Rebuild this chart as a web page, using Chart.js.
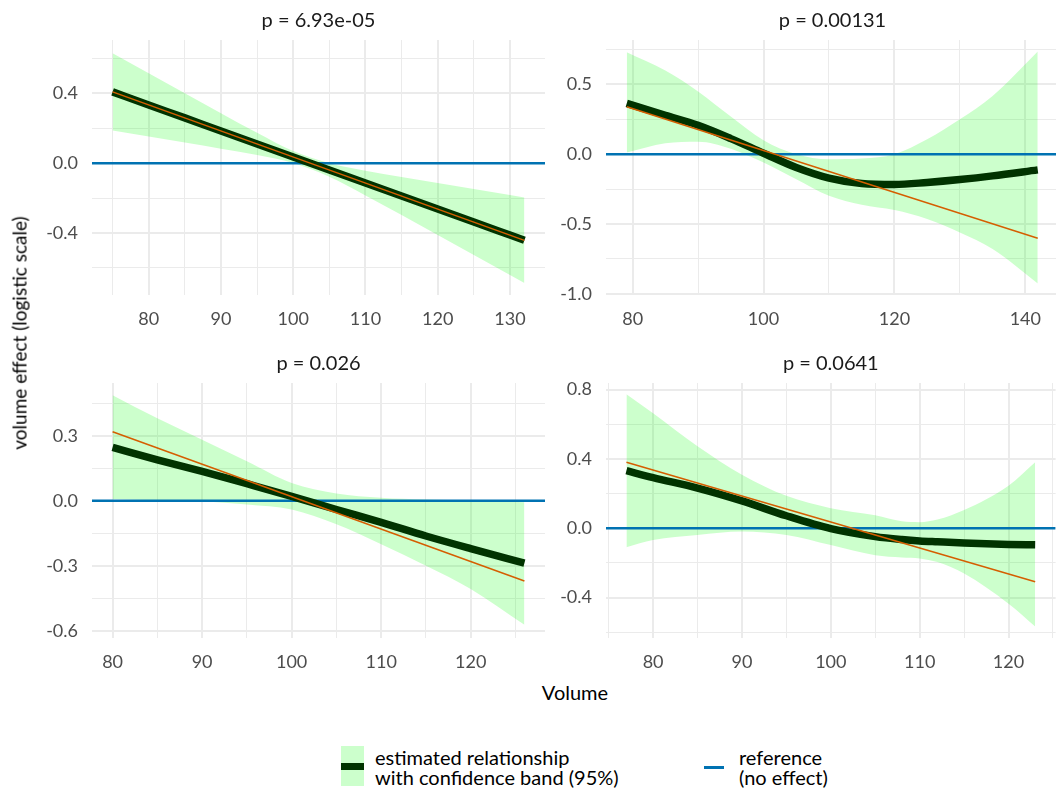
<!DOCTYPE html>
<html>
<head>
<meta charset="utf-8">
<script src="https://cdn.jsdelivr.net/npm/chart.js@4.4.1/dist/chart.umd.min.js"></script>
<style>
  html, body { margin: 0; padding: 0; background: #fff; overflow: hidden; }
  body { width: 1056px; height: 794px; position: relative; font-family: Lato, sans-serif; }
  canvas { position: absolute; }
  .ytitle { position: absolute; left: 19px; top: 333px; transform: translate(-50%, -50%) rotate(-90deg);
            white-space: nowrap; font-size: 19px; color: #000; }
  .xtitle { position: absolute; left: 575px; top: 692px; transform: translate(-50%, -50%);
            font-size: 20px; color: #000; }
  .lg-text { position: absolute; font-size: 20px; line-height: 20px; color: #000; white-space: nowrap; }
</style>
</head>
<body>
<canvas id="p1" width="530" height="330" style="left:22px; top:0px;"></canvas>
<canvas id="p2" width="530" height="330" style="left:536px; top:0px;"></canvas>
<canvas id="p3" width="530" height="330" style="left:22px; top:343px;"></canvas>
<canvas id="p4" width="530" height="330" style="left:536px; top:343px;"></canvas>

<div class="ytitle">volume effect (logistic scale)</div>
<div class="xtitle">Volume</div>

<!-- legend -->
<div style="position:absolute; left:341px; top:746px; width:23px; height:40px; background:rgba(0,255,0,0.2);">
  <div style="position:absolute; left:0; top:17px; width:23px; height:7px; background:#013300;"></div>
</div>
<div class="lg-text" style="left:375px; top:747px;">estimated relationship<br>with confidence band (95%)</div>
<div style="position:absolute; left:704px; top:766px; width:20px; height:3px; background:#0072B2;"></div>
<div class="lg-text" style="left:739px; top:747px;">reference<br>(no effect)</div>

<script>
// ---- panel 1 : p = 6.93e-05 ----
const p1X   = [75, 80, 85, 90, 95, 100, 105, 110, 115, 120, 125, 130, 132];
const p1Fit = [0.408, 0.333, 0.259, 0.184, 0.110, 0.035, -0.039, -0.114, -0.188, -0.263, -0.337, -0.412, -0.442];
const p1Hi  = [0.629, 0.514, 0.400, 0.286, 0.174, 0.069, 0.000, -0.043, -0.079, -0.114, -0.148, -0.183, -0.197];
const p1Lo  = [0.187, 0.152, 0.118, 0.082, 0.046, 0.001, -0.078, -0.185, -0.297, -0.412, -0.526, -0.641, -0.687];
const p1LinX = [75, 132];
const p1LinY = [0.408, -0.442];
const p1XLim = [72.15, 134.85];
const p1YLim = [-0.755, 0.705];
const p1XTicks = [80, 90, 100, 110, 120, 130];
const p1XMinor = [75, 85, 95, 105, 115, 125];
const p1YTicks = [-0.4, 0, 0.4];
const p1YMinor = [-0.6, -0.2, 0.2, 0.6];

// ---- panel 2 : p = 0.00131 ----
const p2X   = [79.1, 85, 90, 95, 100, 105, 110, 115, 120, 125, 130, 135, 141.9];
const p2Fit = [0.364, 0.279, 0.207, 0.112, 0.007, -0.095, -0.171, -0.210, -0.217, -0.202, -0.181, -0.155, -0.112];
const p2Hi  = [0.731, 0.600, 0.450, 0.270, 0.100, 0.000, -0.036, -0.031, 0.000, 0.107, 0.250, 0.417, 0.735];
const p2Lo  = [0.012, 0.079, 0.090, 0.040, -0.060, -0.179, -0.298, -0.362, -0.400, -0.464, -0.560, -0.679, -0.925];
const p2LinX = [79.1, 141.9];
const p2LinY = [0.340, -0.602];
const p2XLim = [75.93, 145.15];
const p2YLim = [-1.008, 0.818];
const p2XTicks = [80, 100, 120, 140];
const p2XMinor = [90, 110, 130];
const p2YTicks = [-1.0, -0.5, 0, 0.5];
const p2YMinor = [-0.75, -0.25, 0.25, 0.75];

// ---- panel 3 : p = 0.026 ----
const p3X   = [80, 85, 90, 95, 100, 105, 110, 115, 120, 126];
const p3Fit = [0.246, 0.189, 0.136, 0.079, 0.021, -0.040, -0.099, -0.162, -0.220, -0.287];
const p3Hi  = [0.487, 0.380, 0.281, 0.182, 0.082, 0.034, 0.014, 0.006, 0.002, -0.006];
const p3Lo  = [0.009, 0.003, -0.002, -0.017, -0.040, -0.108, -0.200, -0.299, -0.406, -0.571];
const p3LinX = [80, 126];
const p3LinY = [0.318, -0.369];
const p3XLim = [77.7, 128.3];
const p3YLim = [-0.632, 0.543];
const p3XTicks = [80, 90, 100, 110, 120];
const p3XMinor = [85, 95, 105, 115, 125];
const p3YTicks = [-0.6, -0.3, 0, 0.3];
const p3YMinor = [-0.45, -0.15, 0.15, 0.45];

// ---- panel 4 : p = 0.0641 ----
const p4X   = [77, 80, 85, 90, 95, 100, 105, 108, 110, 112, 115, 120, 123];
const p4Fit = [0.332, 0.292, 0.232, 0.158, 0.072, -0.002, -0.048, -0.065, -0.073, -0.078, -0.085, -0.093, -0.095];
const p4Hi  = [0.773, 0.663, 0.473, 0.309, 0.187, 0.116, 0.075, 0.040, 0.035, 0.050, 0.105, 0.245, 0.381];
const p4Lo  = [-0.110, -0.068, -0.039, -0.019, -0.039, -0.097, -0.155, -0.168, -0.174, -0.195, -0.261, -0.435, -0.566];
const p4LinX = [77, 123];
const p4LinY = [0.381, -0.309];
const p4XLim = [74.7, 125.3];
const p4YLim = [-0.633, 0.838];
const p4XTicks = [80, 90, 100, 110, 120];
const p4XMinor = [75, 85, 95, 105, 115, 125];
const p4YTicks = [-0.4, 0, 0.4, 0.8];
const p4YMinor = [-0.6, -0.2, 0.2, 0.6];

const titles = ['p = 6.93e-05', 'p = 0.00131', 'p = 0.026', 'p = 0.0641'];

const BAND = 'rgba(0,255,0,0.2)';
const DARK = '#013300';
const ORANGE = '#D55E00';
const BLUE = '#0072B2';
const GRID = '#ebebeb';

Chart.defaults.font.family = 'Lato';

function isIn(list, v) {
    return list.some(m => Math.abs(m - v) < 1e-6);
}

function pts(xs, ys) {
    return xs.map((x, i) => ({ x: x, y: ys[i] }));
}

function makePanel(id, title, p) {
    new Chart(document.getElementById(id), {
        type: 'line',
        data: {
            datasets: [
                { data: pts(p.linX, p.linY), borderColor: ORANGE, borderWidth: 1.5, order: 0 },
                { data: pts(p.x, p.fit), borderColor: DARK, borderWidth: 7.5, cubicInterpolationMode: 'monotone', order: 1 },
                { data: pts(p.xLim, [0, 0]), borderColor: BLUE, borderWidth: 2.5, order: 2 },
                { data: pts(p.x, p.hi), borderColor: 'rgba(0,0,0,0)', borderWidth: 1, backgroundColor: BAND,
                  fill: '+1', cubicInterpolationMode: 'monotone', order: 3 },
                { data: pts(p.x, p.lo), borderColor: 'rgba(0,0,0,0)', borderWidth: 1,
                  fill: false, cubicInterpolationMode: 'monotone', order: 4 },
            ]
        },
        options: {
            responsive: false,
            animation: false,
            devicePixelRatio: 1,
            layout: { padding: { left: 0, right: 7, top: 0, bottom: 0 } },
            elements: { point: { radius: 0, hoverRadius: 0 } },
            plugins: {
                legend: { display: false },
                tooltip: { enabled: false },
                title: {
                    display: true, text: title, fullSize: false, color: '#1a1a1a',
                    font: { size: 20, weight: 'normal', lineHeight: 1 },
                    padding: { top: 11, bottom: 9 }
                }
            },
            scales: {
                x: {
                    type: 'linear', min: p.xLim[0], max: p.xLim[1],
                    afterBuildTicks: s => { s.ticks = p.xTicks.concat(p.xMinor).sort((a, b) => a - b).map(v => ({ value: v })); },
                    afterFit: s => { s.height = 35; },
                    border: { display: false },
                    grid: { color: GRID, drawTicks: false, lineWidth: c => isIn(p.xTicks, c.tick.value) ? 2 : 1 },
                    ticks: {
                        autoSkip: false, maxRotation: 0, padding: 13, color: '#4d4d4d', font: { size: 18 },
                        callback: v => isIn(p.xTicks, v) ? String(v) : ''
                    }
                },
                y: {
                    type: 'linear', min: p.yLim[0], max: p.yLim[1],
                    afterBuildTicks: s => { s.ticks = p.yTicks.concat(p.yMinor).sort((a, b) => a - b).map(v => ({ value: v })); },
                    afterFit: s => { s.width = 70; },
                    border: { display: false },
                    grid: { color: GRID, drawTicks: false, lineWidth: c => isIn(p.yTicks, c.tick.value) ? 2 : 1 },
                    ticks: {
                        autoSkip: false, padding: 14, color: '#4d4d4d', font: { size: 18 },
                        callback: v => isIn(p.yTicks, v) ? v.toFixed(1) : ''
                    }
                }
            }
        }
    });
}

makePanel('p1', titles[0], { x: p1X, fit: p1Fit, hi: p1Hi, lo: p1Lo, linX: p1LinX, linY: p1LinY,
    xLim: p1XLim, yLim: p1YLim, xTicks: p1XTicks, xMinor: p1XMinor, yTicks: p1YTicks, yMinor: p1YMinor });
makePanel('p2', titles[1], { x: p2X, fit: p2Fit, hi: p2Hi, lo: p2Lo, linX: p2LinX, linY: p2LinY,
    xLim: p2XLim, yLim: p2YLim, xTicks: p2XTicks, xMinor: p2XMinor, yTicks: p2YTicks, yMinor: p2YMinor });
makePanel('p3', titles[2], { x: p3X, fit: p3Fit, hi: p3Hi, lo: p3Lo, linX: p3LinX, linY: p3LinY,
    xLim: p3XLim, yLim: p3YLim, xTicks: p3XTicks, xMinor: p3XMinor, yTicks: p3YTicks, yMinor: p3YMinor });
makePanel('p4', titles[3], { x: p4X, fit: p4Fit, hi: p4Hi, lo: p4Lo, linX: p4LinX, linY: p4LinY,
    xLim: p4XLim, yLim: p4YLim, xTicks: p4XTicks, xMinor: p4XMinor, yTicks: p4YTicks, yMinor: p4YMinor });
</script>
</body>
</html>
